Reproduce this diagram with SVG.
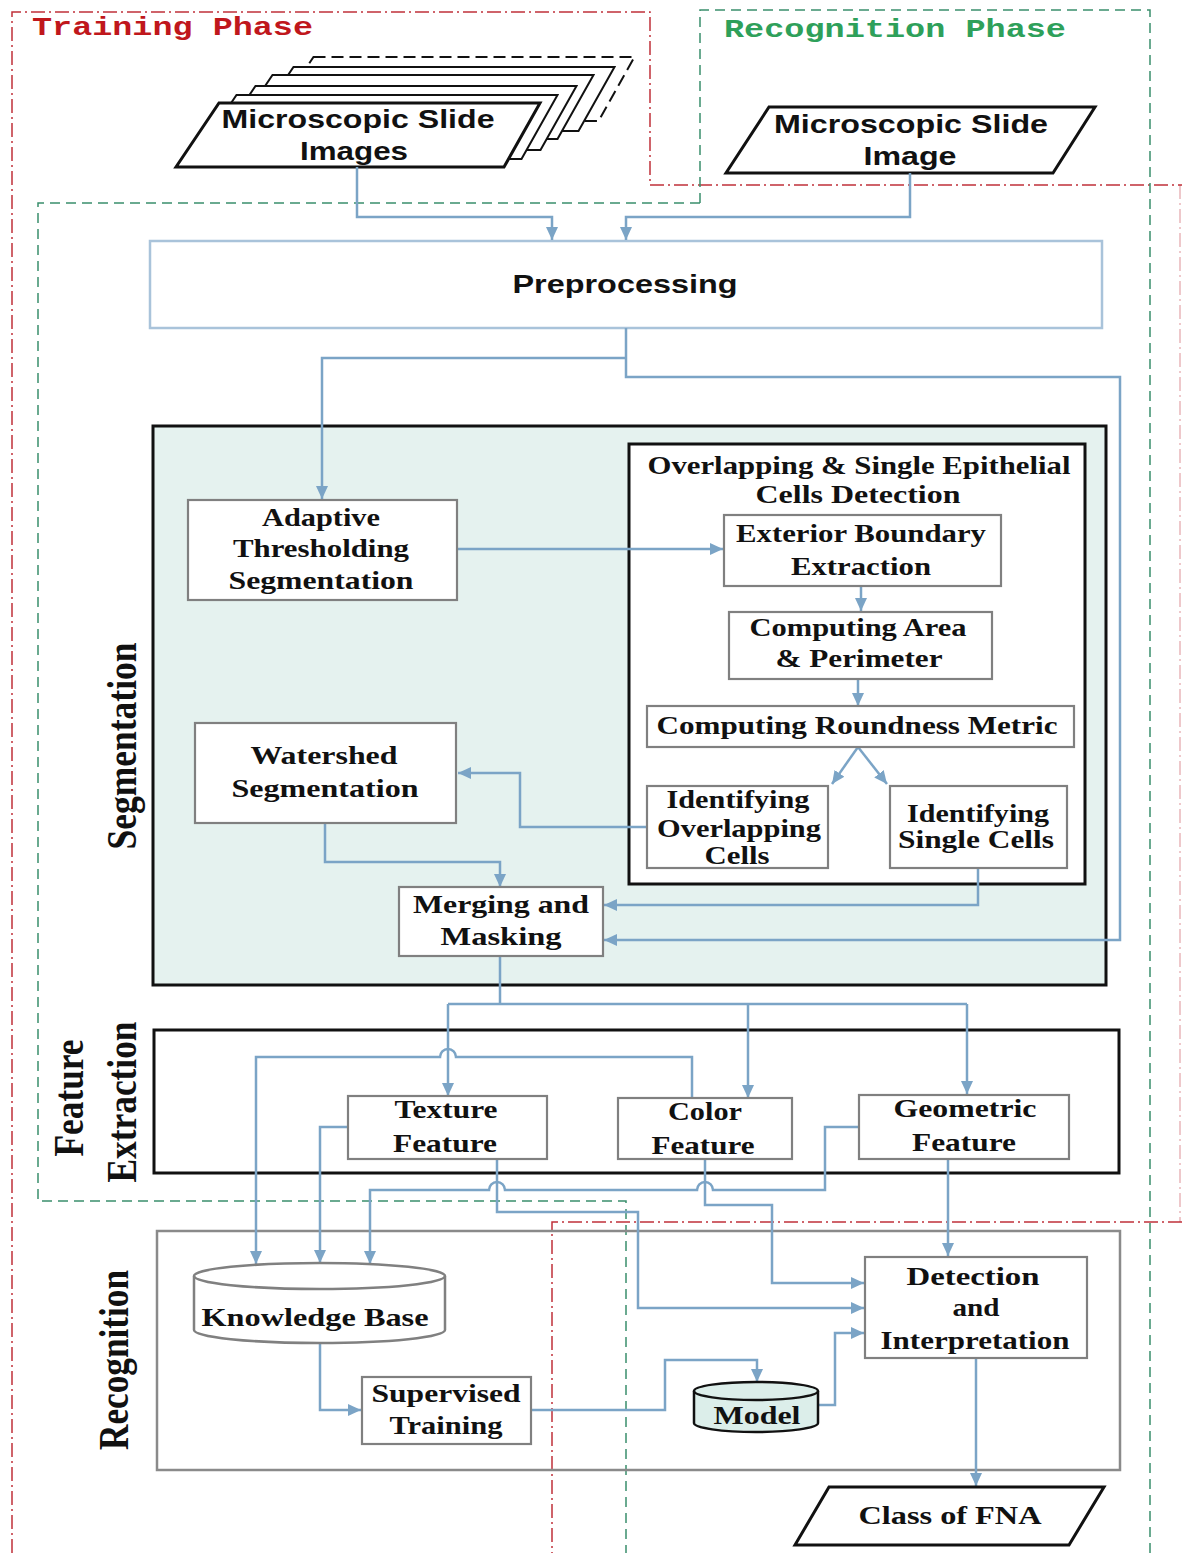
<svg xmlns="http://www.w3.org/2000/svg" width="1182" height="1553" viewBox="0 0 1182 1553">
<defs>
<style>
.conn{fill:none;stroke:#7ba4c6;stroke-width:2.5}
.a{marker-end:url(#arr)}
.box{fill:#fff;stroke:#808080;stroke-width:2.2}
.blk{fill:#fff;stroke:#111;stroke-width:3}
.t{font-family:"Liberation Serif","Times New Roman",serif;font-weight:bold;font-size:25px;fill:#111;text-anchor:middle}
.s{font-family:"Liberation Sans",Arial,sans-serif;font-weight:bold;font-size:26px;fill:#111;text-anchor:middle}
.m{font-family:"Liberation Mono","Courier New",monospace;font-weight:bold;font-size:26px}
.v{font-family:"Liberation Serif","Times New Roman",serif;font-weight:bold;font-size:42px;fill:#111;text-anchor:middle}
.red{fill:none;stroke:#c0303a;stroke-width:1.5;stroke-dasharray:14 4 2 4}
.grn{fill:none;stroke:#3a8f6c;stroke-width:1.5;stroke-dasharray:10 6}
</style>
<marker id="arr" markerUnits="userSpaceOnUse" markerWidth="14" markerHeight="14" refX="13" refY="7" orient="auto" viewBox="0 0 14 14"><path d="M0,1 L13,7 L0,13 Z" fill="#7ba4c6"/></marker>
<polygon id="para" points="219,103 540,103 504,167 176,167"/>
</defs>
<rect x="0" y="0" width="1182" height="1553" fill="#fff"/>

<g id="phases">
<polyline class="red" points="12,1553 12,12 650,12 650,185 1182,185"/>
<polyline class="red" points="1182,1222 552,1222 552,1553"/>
<line class="red" x1="1180" y1="185" x2="1180" y2="1222" stroke-opacity="0.35"/>
<polyline class="grn" points="700,203 700,10 1150,10 1150,1553"/>
<polyline class="grn" points="700,203 38,203 38,1201 626,1201 626,1553"/>
<text class="m" x="32" y="35" fill="#c0171c" textLength="281" lengthAdjust="spacingAndGlyphs">Training Phase</text>
<text class="m" x="724" y="37" fill="#2ea05a" textLength="342" lengthAdjust="spacingAndGlyphs">Recognition Phase</text>
</g>

<g id="train-images">
<use href="#para" transform="translate(94.5,-46)" fill="#fff" stroke="#111" stroke-width="2" stroke-dasharray="12 6"/>
<use href="#para" transform="translate(74.5,-36)" fill="#fff" stroke="#111" stroke-width="2"/>
<use href="#para" transform="translate(53.5,-28)" fill="#fff" stroke="#111" stroke-width="2"/>
<use href="#para" transform="translate(36.5,-17)" fill="#fff" stroke="#111" stroke-width="2"/>
<use href="#para" transform="translate(17.5,-8)" fill="#fff" stroke="#111" stroke-width="2"/>
<use href="#para" fill="#fff" stroke="#111" stroke-width="3"/>
<text class="s" x="358" y="128" textLength="273" lengthAdjust="spacingAndGlyphs">Microscopic Slide</text>
<text class="s" x="354" y="160" textLength="108" lengthAdjust="spacingAndGlyphs">Images</text>
</g>

<g id="recog-image">
<polygon points="769,107 1095,107 1053,173 726,173" fill="#fff" stroke="#111" stroke-width="3"/>
<text class="s" x="911" y="133" textLength="274" lengthAdjust="spacingAndGlyphs">Microscopic Slide</text>
<text class="s" x="910" y="165" textLength="93" lengthAdjust="spacingAndGlyphs">Image</text>
</g>

<g id="preprocessing">
<rect x="150" y="241" width="952" height="87" fill="#fff" stroke="#a9c3da" stroke-width="2.5"/>
<text class="s" x="625" y="293" textLength="225" lengthAdjust="spacingAndGlyphs">Preprocessing</text>
</g>

<g id="segmentation-stage">
<rect x="153" y="426" width="953" height="559" fill="#e5f2ef" stroke="#111" stroke-width="3"/>
<text class="v" transform="translate(136,746) rotate(-90)" textLength="207" lengthAdjust="spacingAndGlyphs">Segmentation</text>
</g>

<g id="cells-detection">
<rect x="629" y="444" width="456" height="440" class="blk"/>
<text class="t" x="859" y="474" textLength="423" lengthAdjust="spacingAndGlyphs">Overlapping &amp; Single Epithelial</text>
<text class="t" x="858" y="503" textLength="205" lengthAdjust="spacingAndGlyphs">Cells Detection</text>
</g>

<g id="feature-stage">
<rect x="154" y="1030" width="965" height="143" class="blk"/>
<text class="v" transform="translate(83,1098) rotate(-90)" textLength="117" lengthAdjust="spacingAndGlyphs">Feature</text>
<text class="v" transform="translate(136,1102) rotate(-90)" textLength="161" lengthAdjust="spacingAndGlyphs">Extraction</text>
</g>

<g id="recognition-stage">
<rect x="157" y="1231" width="963" height="239" fill="none" stroke="#8a8a8a" stroke-width="2.5"/>
<text class="v" transform="translate(128,1360) rotate(-90)" textLength="180" lengthAdjust="spacingAndGlyphs">Recognition</text>
</g>

<g id="connectors">
<path class="conn a" d="M357,167 V217 H552 V240"/>
<path class="conn a" d="M910,173 V217 H626 V240"/>
<path class="conn a" d="M626,328 V377 H1120 V940 H604"/>
<path class="conn a" d="M626,358 H322 V499"/>
<path class="conn a" d="M457,549 H723"/>
<path class="conn a" d="M861,586 V611"/>
<path class="conn a" d="M858,679 V706"/>
<path class="conn a" d="M858,747 L832,784"/>
<path class="conn a" d="M858,747 L887,784"/>
<path class="conn a" d="M647,827 H520 V773 H458"/>
<path class="conn a" d="M325,823 V862 H500 V887"/>
<path class="conn a" d="M978,868 V905 H604"/>
<path class="conn" d="M500,956 V1004 M448,1004 H967"/>
<path class="conn a" d="M448,1004 V1096"/>
<path class="conn a" d="M748,1004 V1098"/>
<path class="conn a" d="M967,1004 V1094"/>
<path class="conn a" d="M692,1098 V1057 H456 A8,8 0 0 0 440,1057 H256 V1264"/>
<path class="conn a" d="M348,1127 H320 V1263"/>
<path class="conn a" d="M859,1127 H825 V1190 H713 A8,8 0 0 0 697,1190 H505 A8,8 0 0 0 489,1190 H370 V1264"/>
<path class="conn a" d="M497,1159 V1212 H638 V1308 H864"/>
<path class="conn a" d="M705,1159 V1205 H772 V1283 H864"/>
<path class="conn a" d="M948,1159 V1256"/>
<path class="conn a" d="M320,1343 V1410 H361"/>
<path class="conn a" d="M531,1410 H665 V1360 H757 V1382"/>
<path class="conn a" d="M818,1405 H835 V1333 H864"/>
<path class="conn a" d="M976,1358 V1486"/>
</g>

<g id="adaptive">
<rect x="188" y="500" width="269" height="100" class="box"/>
<text class="t" x="321" y="526" textLength="118" lengthAdjust="spacingAndGlyphs">Adaptive</text>
<text class="t" x="321" y="557" textLength="176" lengthAdjust="spacingAndGlyphs">Thresholding</text>
<text class="t" x="321" y="589" textLength="185" lengthAdjust="spacingAndGlyphs">Segmentation</text>
</g>

<g id="exterior">
<rect x="724" y="515" width="277" height="71" class="box"/>
<text class="t" x="861" y="542" textLength="250" lengthAdjust="spacingAndGlyphs">Exterior Boundary</text>
<text class="t" x="861" y="575" textLength="140" lengthAdjust="spacingAndGlyphs">Extraction</text>
</g>

<g id="area">
<rect x="729" y="612" width="263" height="67" class="box"/>
<text class="t" x="858" y="636" textLength="217" lengthAdjust="spacingAndGlyphs">Computing Area</text>
<text class="t" x="859" y="667" textLength="167" lengthAdjust="spacingAndGlyphs">&amp; Perimeter</text>
</g>

<g id="roundness">
<rect x="647" y="706" width="427" height="41" class="box"/>
<text class="t" x="857" y="734" textLength="401" lengthAdjust="spacingAndGlyphs">Computing Roundness Metric</text>
</g>

<g id="overlapping">
<rect x="647" y="786" width="181" height="82" class="box"/>
<text class="t" x="738" y="808" textLength="143" lengthAdjust="spacingAndGlyphs">Identifying</text>
<text class="t" x="739" y="837" textLength="164" lengthAdjust="spacingAndGlyphs">Overlapping</text>
<text class="t" x="737" y="864" textLength="65" lengthAdjust="spacingAndGlyphs">Cells</text>
</g>

<g id="single">
<rect x="890" y="786" width="177" height="82" class="box"/>
<text class="t" x="978" y="822" textLength="142" lengthAdjust="spacingAndGlyphs">Identifying</text>
<text class="t" x="976" y="848" textLength="156" lengthAdjust="spacingAndGlyphs">Single Cells</text>
</g>

<g id="watershed">
<rect x="195" y="723" width="261" height="100" class="box"/>
<text class="t" x="324" y="764" textLength="147" lengthAdjust="spacingAndGlyphs">Watershed</text>
<text class="t" x="325" y="797" textLength="187" lengthAdjust="spacingAndGlyphs">Segmentation</text>
</g>

<g id="merging">
<rect x="399" y="887" width="204" height="69" class="box"/>
<text class="t" x="501" y="913" textLength="176" lengthAdjust="spacingAndGlyphs">Merging and</text>
<text class="t" x="501" y="945" textLength="121" lengthAdjust="spacingAndGlyphs">Masking</text>
</g>

<g id="texture">
<rect x="348" y="1096" width="199" height="63" class="box"/>
<text class="t" x="446" y="1118" textLength="103" lengthAdjust="spacingAndGlyphs">Texture</text>
<text class="t" x="445" y="1152" textLength="104" lengthAdjust="spacingAndGlyphs">Feature</text>
</g>

<g id="color">
<rect x="618" y="1098" width="174" height="61" class="box"/>
<text class="t" x="705" y="1120" textLength="74" lengthAdjust="spacingAndGlyphs">Color</text>
<text class="t" x="703" y="1154" textLength="103" lengthAdjust="spacingAndGlyphs">Feature</text>
</g>

<g id="geometric">
<rect x="859" y="1095" width="210" height="64" class="box"/>
<text class="t" x="965" y="1117" textLength="143" lengthAdjust="spacingAndGlyphs">Geometric</text>
<text class="t" x="964" y="1151" textLength="104" lengthAdjust="spacingAndGlyphs">Feature</text>
</g>

<g id="knowledge-base">
<path d="M194,1276 A125.5,13 0 0 1 445,1276 V1330 A125.5,13 0 0 1 194,1330 Z" fill="#fff" stroke="#808080" stroke-width="2.5"/>
<path d="M194,1276 A125.5,13 0 0 0 445,1276" fill="none" stroke="#808080" stroke-width="2.5"/>
<text class="t" x="315" y="1326" textLength="227" lengthAdjust="spacingAndGlyphs">Knowledge Base</text>
</g>

<g id="supervised">
<rect x="362" y="1377" width="169" height="67" class="box"/>
<text class="t" x="446" y="1402" textLength="149" lengthAdjust="spacingAndGlyphs">Supervised</text>
<text class="t" x="446" y="1434" textLength="113" lengthAdjust="spacingAndGlyphs">Training</text>
</g>

<g id="model">
<path d="M694,1391 A62,9 0 0 1 818,1391 V1423 A62,9 0 0 1 694,1423 Z" fill="#dceeea" stroke="#111" stroke-width="2.5"/>
<path d="M694,1391 A62,9 0 0 0 818,1391" fill="none" stroke="#111" stroke-width="2.5"/>
<text class="t" x="757" y="1424" textLength="87" lengthAdjust="spacingAndGlyphs">Model</text>
</g>

<g id="detection">
<rect x="865" y="1257" width="222" height="101" class="box"/>
<text class="t" x="973" y="1285" textLength="133" lengthAdjust="spacingAndGlyphs">Detection</text>
<text class="t" x="976" y="1316" textLength="47" lengthAdjust="spacingAndGlyphs">and</text>
<text class="t" x="975" y="1349" textLength="189" lengthAdjust="spacingAndGlyphs">Interpretation</text>
</g>

<g id="class-fna">
<polygon points="829,1487 1104,1487 1069,1545 795,1545" fill="#fff" stroke="#111" stroke-width="3"/>
<text class="t" x="950" y="1524" textLength="183" lengthAdjust="spacingAndGlyphs">Class of FNA</text>
</g>
</svg>
